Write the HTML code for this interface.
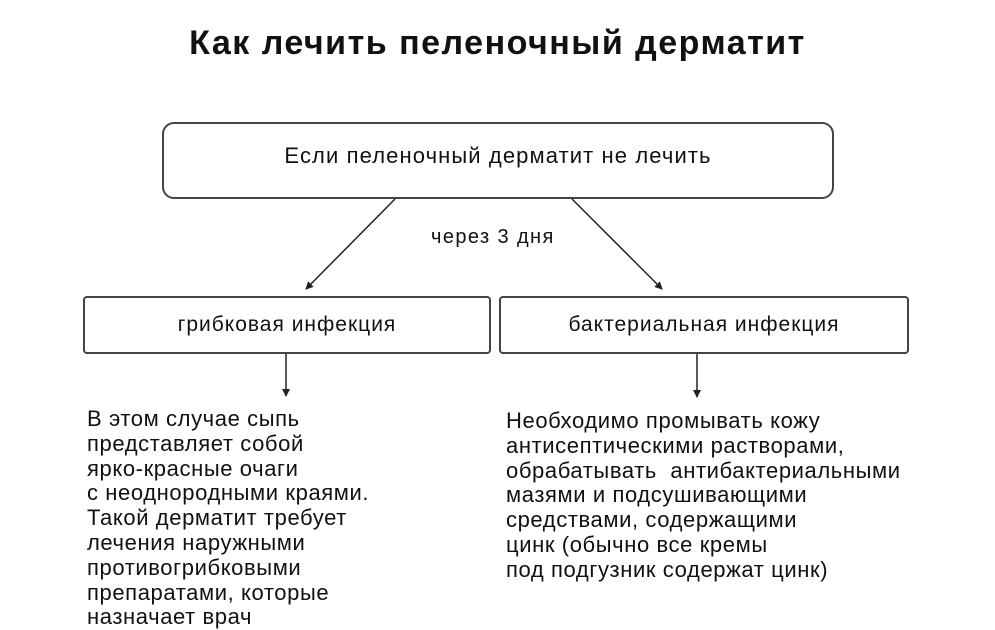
<!DOCTYPE html>
<html><head><meta charset="utf-8"><style>
body{margin:0;width:995px;height:622px;overflow:hidden;background:#fff;font-family:"Liberation Sans","DejaVu Sans",sans-serif;color:#111;position:relative}
.a{position:absolute;white-space:nowrap}
.box{position:absolute;border:2px solid #444;box-sizing:border-box;display:flex;align-items:center;justify-content:center;font-size:21px;letter-spacing:1px}
.txt{position:absolute;font-size:22px;letter-spacing:0.6px;line-height:24.8px;white-space:nowrap}
</style></head><body>
<div class="a" style="left:0;width:995px;text-align:center;top:24px;font-size:34px;font-weight:bold;letter-spacing:1.5px">Как лечить пеленочный дерматит</div>
<div class="box" style="left:162px;top:122px;width:672px;height:77px;border-radius:12px;align-items:flex-start;padding-top:19px;font-size:22px;letter-spacing:1.1px">Если пеленочный дерматит не лечить</div>
<div class="a" style="left:431px;top:226px;font-size:20px;letter-spacing:1.4px">через 3 дня</div>
<div class="box" style="left:83px;top:296px;width:408px;height:58px;border-radius:4px">грибковая инфекция</div>
<div class="box" style="left:499px;top:296px;width:410px;height:58px;border-radius:4px">бактериальная инфекция</div>
<svg style="position:absolute;left:0;top:0" width="995" height="622">
<defs><marker id="m" markerWidth="8" markerHeight="8" refX="7" refY="4" orient="auto" markerUnits="userSpaceOnUse"><path d="M0,0 L8,4 L0,8 z" fill="#222"/></marker></defs>
<g stroke="#222" stroke-width="1.5" fill="none">
<line x1="395" y1="199" x2="306" y2="289" marker-end="url(#m)"/>
<line x1="572" y1="199" x2="662" y2="289" marker-end="url(#m)"/>
<line x1="286" y1="354" x2="286" y2="396" marker-end="url(#m)"/>
<line x1="697" y1="354" x2="697" y2="397" marker-end="url(#m)"/>
</g></svg>
<div class="txt" style="left:87px;top:407px">В этом случае сыпь<br>представляет собой<br>ярко-красные очаги<br>с неоднородными краями.<br>Такой дерматит требует<br>лечения наружными<br>противогрибковыми<br>препаратами, которые<br>назначает врач</div>
<div class="txt" style="left:506px;top:409px">Необходимо промывать кожу<br>антисептическими растворами,<br>обрабатывать&nbsp; антибактериальными<br>мазями и подсушивающими<br>средствами, содержащими<br>цинк (обычно все кремы<br>под подгузник содержат цинк)</div>
</body></html>
